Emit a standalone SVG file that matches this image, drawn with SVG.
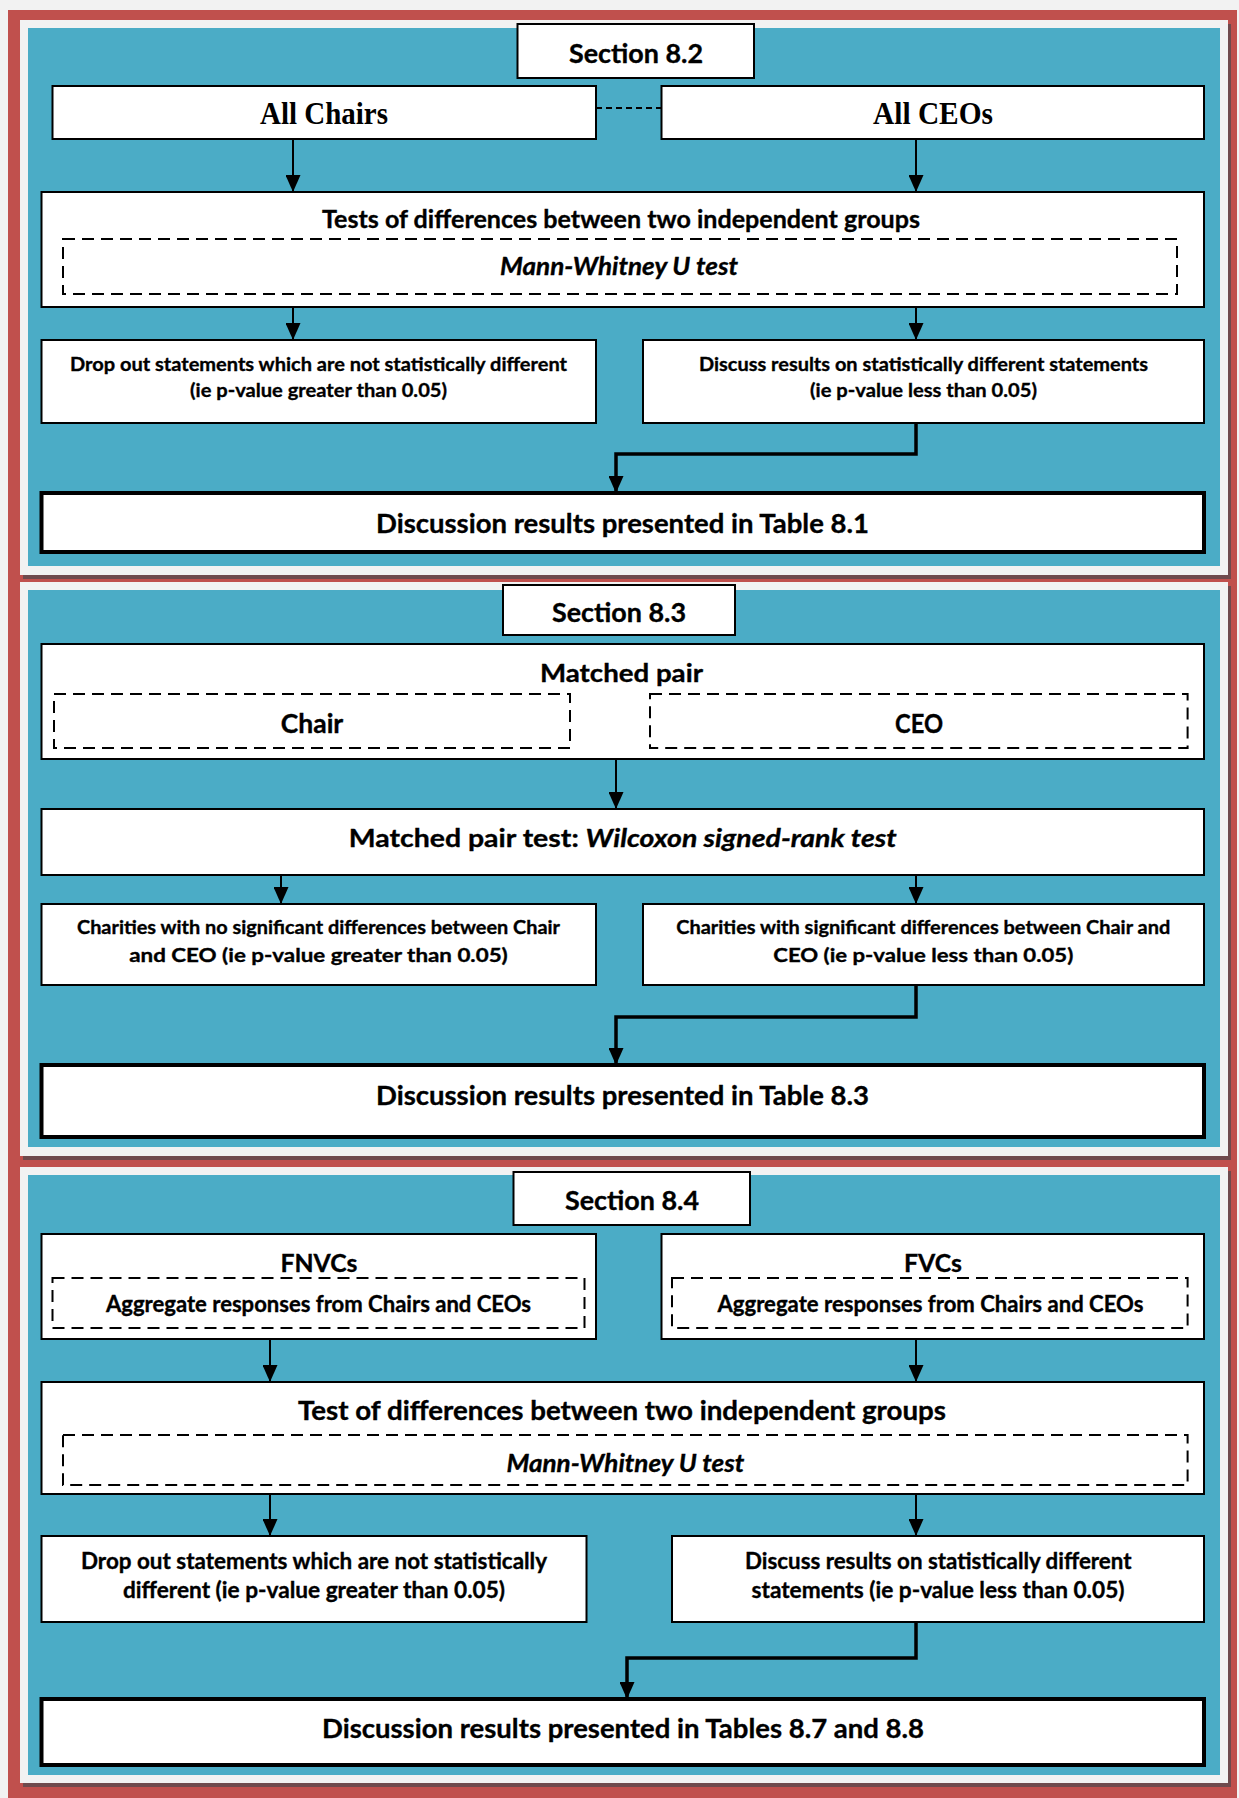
<svg xmlns="http://www.w3.org/2000/svg" width="1239" height="1798" viewBox="0 0 1239 1798">
  <style>
    .box { fill: #ffffff; stroke: #000000; stroke-width: 2; }
    .box-strong { fill: #ffffff; stroke: #000000; stroke-width: 4; }
    .dash { fill: none; stroke: #000000; stroke-width: 2; stroke-dasharray: 12 7; }
    .t { font-family: Lato, "Open Sans", "Liberation Sans", sans-serif; font-weight: bold; text-anchor: middle; fill: #000000; stroke: #000000; stroke-width: 0.35; }
    .serif { font-family: "Liberation Serif", "Times New Roman", serif; font-weight: bold; text-anchor: middle; fill: #000000; }
    .it { font-style: italic; }
    .wire { fill: none; stroke: #000000; stroke-width: 2; marker-end: url(#arrow); }
    .wire-strong { fill: none; stroke: #000000; stroke-width: 3.5; marker-end: url(#arrow); }
    .link { fill: none; stroke: #000000; stroke-width: 2; stroke-dasharray: 6 4; }
    .frame { fill: #f2f2f2; }
    .panel { fill: #4bacc6; }
    .shadow { fill: #6f4a4d; }
  </style>
  <defs>
    <marker id="arrow" markerUnits="userSpaceOnUse" markerWidth="17" markerHeight="15" viewBox="0 0 17 15" refX="17" refY="7.5" orient="auto">
      <path d="M0,0 L17,7.5 L0,15 z" fill="#000000"/>
    </marker>
  </defs>

  <!-- page and outer frame -->
  <rect x="0" y="0" width="1239" height="1798" fill="#f2f2f2"/>
  <rect x="8" y="10" width="1229" height="1788" fill="#c0504d"/>

  <!-- section panels -->
  <g id="panels">
    <rect class="shadow" x="23" y="24" width="1208" height="555"/>
    <rect class="frame" x="20" y="20" width="1208" height="555"/>
    <rect class="panel" x="28" y="28" width="1192" height="538"/>

    <rect class="shadow" x="23" y="586" width="1208" height="574"/>
    <rect class="frame" x="20" y="582" width="1208" height="574"/>
    <rect class="panel" x="28" y="590" width="1192" height="557"/>

    <rect class="shadow" x="23" y="1171" width="1208" height="616"/>
    <rect class="frame" x="20" y="1167" width="1208" height="616"/>
    <rect class="panel" x="28" y="1175" width="1192" height="600"/>
  </g>

  <!-- Section 8.2 -->
  <g id="section-8-2">
    <rect class="box" x="517.5" y="24" width="236.5" height="54"/>
    <text class="t" x="636" y="63" font-size="26.5" textLength="134" lengthAdjust="spacingAndGlyphs">Section 8.2</text>
  </g>
  <g id="all-chairs">
    <rect class="box" x="52.5" y="86" width="543.5" height="53"/>
    <text class="serif" x="324" y="124" font-size="31" textLength="128" lengthAdjust="spacingAndGlyphs">All Chairs</text>
  </g>
  <g id="all-ceos">
    <rect class="box" x="661.5" y="86" width="542.5" height="53"/>
    <text class="serif" x="933" y="124" font-size="31" textLength="120" lengthAdjust="spacingAndGlyphs">All CEOs</text>
  </g>
  <g id="independent-test-1">
    <rect class="box" x="41.5" y="192" width="1162.5" height="115"/>
    <text class="t" x="621" y="228" font-size="25.5" textLength="598" lengthAdjust="spacingAndGlyphs">Tests of differences between two independent groups</text>
    <rect class="dash" x="63" y="239" width="1114" height="55"/>
    <text class="t it" x="619" y="275" font-size="24.5" textLength="238" lengthAdjust="spacingAndGlyphs">Mann-Whitney U test</text>
  </g>
  <g id="drop-out-1">
    <rect class="box" x="41.5" y="340" width="554.5" height="83"/>
    <text class="t" x="318.5" y="371" font-size="19.5" textLength="497" lengthAdjust="spacingAndGlyphs">Drop out statements which are not statistically different</text>
    <text class="t" x="318.5" y="397" font-size="19.5" textLength="257" lengthAdjust="spacingAndGlyphs">(ie p-value greater than 0.05)</text>
  </g>
  <g id="discuss-1">
    <rect class="box" x="643" y="340" width="561" height="83"/>
    <text class="t" x="923.5" y="371" font-size="19.5" textLength="449" lengthAdjust="spacingAndGlyphs">Discuss results on statistically different statements</text>
    <text class="t" x="923.5" y="397" font-size="19.5" textLength="227" lengthAdjust="spacingAndGlyphs">(ie p-value less than 0.05)</text>
  </g>
  <g id="results-8-1">
    <rect class="box-strong" x="41.5" y="493" width="1162.5" height="59"/>
    <text class="t" x="622.5" y="533" font-size="27" textLength="493" lengthAdjust="spacingAndGlyphs">Discussion results presented in Table 8.1</text>
  </g>

  <!-- Section 8.3 -->
  <g id="section-8-3">
    <rect class="box" x="503" y="585" width="232" height="50"/>
    <text class="t" x="619" y="622" font-size="26.5" textLength="134" lengthAdjust="spacingAndGlyphs">Section 8.3</text>
  </g>
  <g id="matched-pair">
    <rect class="box" x="41.5" y="644" width="1162.5" height="115"/>
    <text class="t" x="621.5" y="682" font-size="24.5" textLength="163" lengthAdjust="spacingAndGlyphs">Matched pair</text>
    <rect class="dash" x="54" y="694" width="516" height="54"/>
    <text class="t" x="312" y="733" font-size="26" textLength="62.5" lengthAdjust="spacingAndGlyphs">Chair</text>
    <rect class="dash" x="650" y="694" width="537.6" height="54"/>
    <text class="t" x="919" y="733" font-size="26" textLength="48" lengthAdjust="spacingAndGlyphs">CEO</text>
  </g>
  <g id="matched-pair-test">
    <rect class="box" x="41.5" y="809" width="1162.5" height="66"/>
    <text class="t" x="622.75" y="847" font-size="25" textLength="548" lengthAdjust="spacingAndGlyphs">Matched pair test: <tspan class="it">Wilcoxon signed-rank test</tspan></text>
  </g>
  <g id="no-significant">
    <rect class="box" x="41.5" y="904" width="554.5" height="81"/>
    <text class="t" x="318.5" y="934" font-size="19" textLength="483" lengthAdjust="spacingAndGlyphs">Charities with no significant differences between Chair</text>
    <text class="t" x="318.5" y="962" font-size="19" textLength="378.5" lengthAdjust="spacingAndGlyphs">and CEO (ie p-value greater than 0.05)</text>
  </g>
  <g id="significant">
    <rect class="box" x="643" y="904" width="561" height="81"/>
    <text class="t" x="923.25" y="934" font-size="19" textLength="494" lengthAdjust="spacingAndGlyphs">Charities with significant differences between Chair and</text>
    <text class="t" x="923.25" y="962" font-size="19" textLength="300" lengthAdjust="spacingAndGlyphs">CEO (ie p-value less than 0.05)</text>
  </g>
  <g id="results-8-3">
    <rect class="box-strong" x="41.5" y="1065" width="1162.5" height="72"/>
    <text class="t" x="622.5" y="1105" font-size="27" textLength="493" lengthAdjust="spacingAndGlyphs">Discussion results presented in Table 8.3</text>
  </g>

  <!-- Section 8.4 -->
  <g id="section-8-4">
    <rect class="box" x="513.5" y="1172" width="236.5" height="53"/>
    <text class="t" x="632" y="1210" font-size="26.5" textLength="134" lengthAdjust="spacingAndGlyphs">Section 8.4</text>
  </g>
  <g id="fnvcs">
    <rect class="box" x="41.5" y="1234" width="554.5" height="105"/>
    <rect class="dash" x="52.5" y="1278" width="532" height="50"/>
    <text class="t" x="319" y="1272" font-size="25" textLength="77" lengthAdjust="spacingAndGlyphs">FNVCs</text>
    <text class="t" x="318.5" y="1312" font-size="22" textLength="425" lengthAdjust="spacingAndGlyphs">Aggregate responses from Chairs and CEOs</text>
  </g>
  <g id="fvcs">
    <rect class="box" x="661.5" y="1234" width="542.5" height="105"/>
    <rect class="dash" x="672" y="1278" width="515.6" height="50"/>
    <text class="t" x="933" y="1272" font-size="25" textLength="58" lengthAdjust="spacingAndGlyphs">FVCs</text>
    <text class="t" x="930.5" y="1312" font-size="22" textLength="426" lengthAdjust="spacingAndGlyphs">Aggregate responses from Chairs and CEOs</text>
  </g>
  <g id="independent-test-2">
    <rect class="box" x="41.5" y="1382" width="1162.5" height="112"/>
    <text class="t" x="622" y="1420" font-size="26" textLength="648" lengthAdjust="spacingAndGlyphs">Test of differences between two independent groups</text>
    <rect class="dash" x="63" y="1435" width="1124.6" height="50"/>
    <text class="t it" x="625.4" y="1472" font-size="24.5" textLength="238" lengthAdjust="spacingAndGlyphs">Mann-Whitney U test</text>
  </g>
  <g id="drop-out-2">
    <rect class="box" x="41.5" y="1536" width="545" height="86"/>
    <text class="t" x="314" y="1569" font-size="22" textLength="466" lengthAdjust="spacingAndGlyphs">Drop out statements which are not statistically</text>
    <text class="t" x="314" y="1598" font-size="22" textLength="382" lengthAdjust="spacingAndGlyphs">different (ie p-value greater than 0.05)</text>
  </g>
  <g id="discuss-2">
    <rect class="box" x="672" y="1536" width="532" height="86"/>
    <text class="t" x="938.25" y="1569" font-size="22" textLength="386.5" lengthAdjust="spacingAndGlyphs">Discuss results on statistically different</text>
    <text class="t" x="938" y="1598" font-size="22" textLength="373" lengthAdjust="spacingAndGlyphs">statements (ie p-value less than 0.05)</text>
  </g>
  <g id="results-8-7-8-8">
    <rect class="box-strong" x="41.5" y="1699" width="1162.5" height="66"/>
    <text class="t" x="623" y="1738" font-size="27" textLength="602" lengthAdjust="spacingAndGlyphs">Discussion results presented in Tables 8.7 and 8.8</text>
  </g>

  <!-- connectors -->
  <g id="connectors">
    <line class="link" x1="596" y1="108" x2="661.5" y2="108"/>
    <line class="wire" x1="293" y1="139" x2="293" y2="192"/>
    <line class="wire" x1="916" y1="139" x2="916" y2="192"/>
    <line class="wire" x1="293" y1="307" x2="293" y2="340"/>
    <line class="wire" x1="916" y1="307" x2="916" y2="340"/>
    <path class="wire-strong" d="M916,423 V454 H616 V493"/>

    <line class="wire" x1="616" y1="759" x2="616" y2="809"/>
    <line class="wire" x1="281" y1="875" x2="281" y2="904"/>
    <line class="wire" x1="916" y1="875" x2="916" y2="904"/>
    <path class="wire-strong" d="M916,985 V1017 H616 V1065"/>

    <line class="wire" x1="270" y1="1339" x2="270" y2="1382"/>
    <line class="wire" x1="916" y1="1339" x2="916" y2="1382"/>
    <line class="wire" x1="270" y1="1494" x2="270" y2="1536"/>
    <line class="wire" x1="916" y1="1494" x2="916" y2="1536"/>
    <path class="wire-strong" d="M916,1622 V1658 H627 V1699"/>
  </g>
</svg>
